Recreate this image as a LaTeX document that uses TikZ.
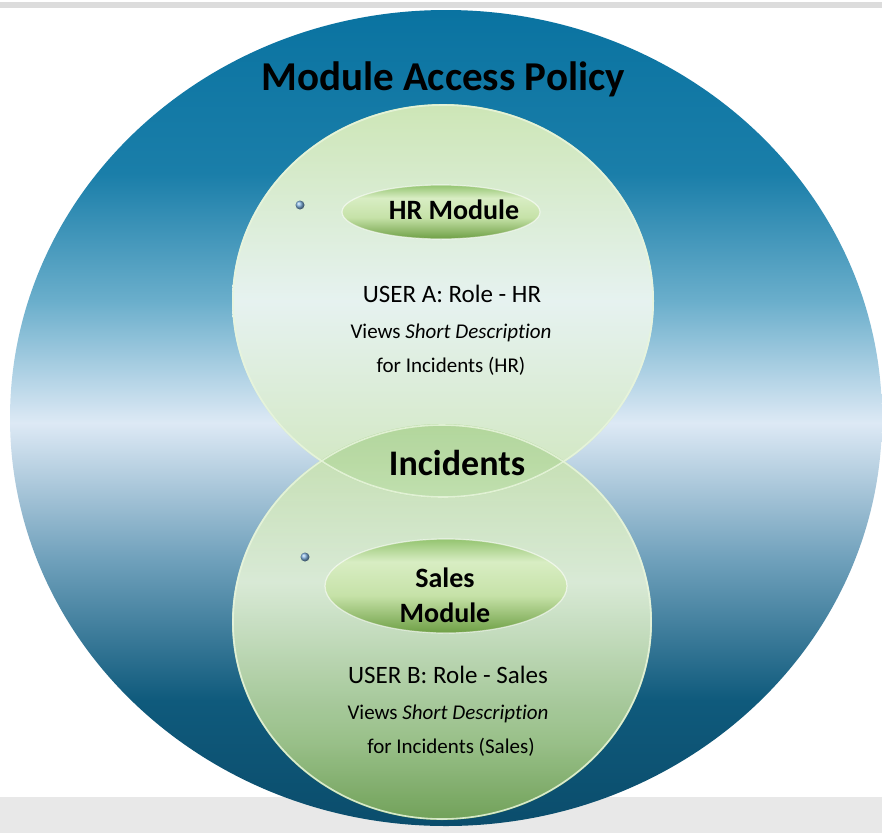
\documentclass[tikz,border=0pt]{standalone}
\usepackage{fontspec}
\setmainfont[Ligatures=NoCommon]{Carlito}
\definecolor{ob0}{HTML}{0B4D6C}
\definecolor{ob1}{HTML}{0F5A7C}
\definecolor{ob2}{HTML}{6FA0BB}
\definecolor{ob3}{HTML}{DDE9F5}
\definecolor{ob4}{HTML}{6AAECB}
\definecolor{ob5}{HTML}{1A7EA9}
\definecolor{ob6}{HTML}{0A73A1}
\definecolor{hr0}{HTML}{CFE6BC}
\definecolor{hr1}{HTML}{E6F2F0}
\definecolor{hr2}{HTML}{CDE6B6}
\definecolor{sa0}{HTML}{7DAB58}
\definecolor{sa1}{HTML}{A9CC8C}
\definecolor{sa2}{HTML}{E6F3DA}
\definecolor{sa3}{HTML}{C0DDA6}
\definecolor{pi0}{HTML}{6E9F45}
\definecolor{pi1}{HTML}{C6E2A8}
\definecolor{pi2}{HTML}{D8EDC3}
\definecolor{pi3}{HTML}{94C470}
\definecolor{rim}{HTML}{E8F5DC}
\definecolor{bandgray}{HTML}{E8E8E8}
\definecolor{dotblue}{HTML}{7DAEDB}
\pgfdeclareverticalshading{outershade}{100bp}{color(0bp)=(ob0); color(25bp)=(ob0); color(32.7bp)=(ob1); color(41.3bp)=(ob2); color(49.7bp)=(ob3); color(57.2bp)=(ob4); color(65bp)=(ob5); color(75bp)=(ob6); color(100bp)=(ob6)}
\pgfdeclareverticalshading{hrshade}{100bp}{color(0bp)=(hr0); color(25bp)=(hr0); color(50bp)=(hr1); color(75bp)=(hr2); color(100bp)=(hr2)}
\pgfdeclareverticalshading{salesshade}{100bp}{color(0bp)=(sa0); color(25bp)=(sa0); color(35bp)=(sa1); color(55bp)=(sa2); color(75bp)=(sa3); color(100bp)=(sa3)}
\pgfdeclareverticalshading{pillshade}{100bp}{color(0bp)=(pi0); color(25bp)=(pi0); color(45bp)=(pi1); color(63bp)=(pi2); color(75bp)=(pi3); color(100bp)=(pi3)}
\tikzset{
  titletext/.style={anchor=base, inner sep=0pt, font=\bfseries\fontsize{41}{48}\selectfont},
  modtext/.style={anchor=base, inner sep=0pt, font=\bfseries\fontsize{28}{35}\selectfont, align=center},
  inctext/.style={anchor=base, inner sep=0pt, font=\bfseries\fontsize{36}{42}\selectfont},
  usertext/.style={anchor=base, inner sep=0pt, font=\fontsize{25}{30}\selectfont},
  smalltext/.style={anchor=base, inner sep=0pt, font=\fontsize{21}{25}\selectfont},
  rimline/.style={draw=rim, line width=1.6pt, draw opacity=0.85},
  pill/.style={shading=pillshade, draw=white, line width=1.2pt, draw opacity=0.6},
  dot/.style={ball color=dotblue}
}
\begin{document}
\begin{tikzpicture}[x=1pt,y=-1pt]
\useasboundingbox (0,0) rectangle (882,833);
\fill[white] (0,0) rectangle (882,833);
\fill[bandgray!95!black] (0,2) rectangle (882,8);
\fill[bandgray] (0,797) rectangle (882,833);
\begin{scope}
\clip (0,0) rectangle (882,833);
\shade[shading=outershade] (446,418) ellipse [x radius=436, y radius=408];
\end{scope}
% HR circle
\shade[shading=hrshade] (443,301) ellipse [x radius=211, y radius=197];
% Sales circle
\shade[shading=salesshade, fill opacity=0.9] (442,622) ellipse [x radius=210, y radius=198];
\begin{scope}
\clip (443,301) ellipse [x radius=211, y radius=197];
\fill[green!50!black, fill opacity=0.08] (442,622) ellipse [x radius=210, y radius=198];
\end{scope}
\draw[rimline] (443,301) ellipse [x radius=210, y radius=196];
\draw[rimline] (442,622) ellipse [x radius=209, y radius=197];
% pills
\shade[pill] (441,212) ellipse [x radius=99, y radius=27];
\shade[pill] (446,586) ellipse [x radius=121, y radius=47];
% dots
\shade[dot] (300,205) circle [radius=4.5];
\shade[dot] (305,557) circle [radius=4.5];
% texts
\node[titletext] (title) at (443,90) {Module Access Policy};
\node[modtext] (hrmod) at (454,219) {HR Module};
\node[usertext] (usera) at (452,302) {USER A: Role - HR};
\node[smalltext] (viewsa) at (451,338) {Views \textit{Short Description}};
\node[smalltext] (fora) at (451,372) {for Incidents (HR)};
\node[inctext] (inc) at (457,475) {Incidents};
\node[modtext] (salesa) at (445,587) {Sales};
\node[modtext] (salesb) at (445,622) {Module};
\node[usertext] (userb) at (448,683) {USER B: Role - Sales};
\node[smalltext] (viewsb) at (448,719) {Views \textit{Short Description}};
\node[smalltext] (forb) at (451,753) {for Incidents (Sales)};
\end{tikzpicture}
\end{document}
